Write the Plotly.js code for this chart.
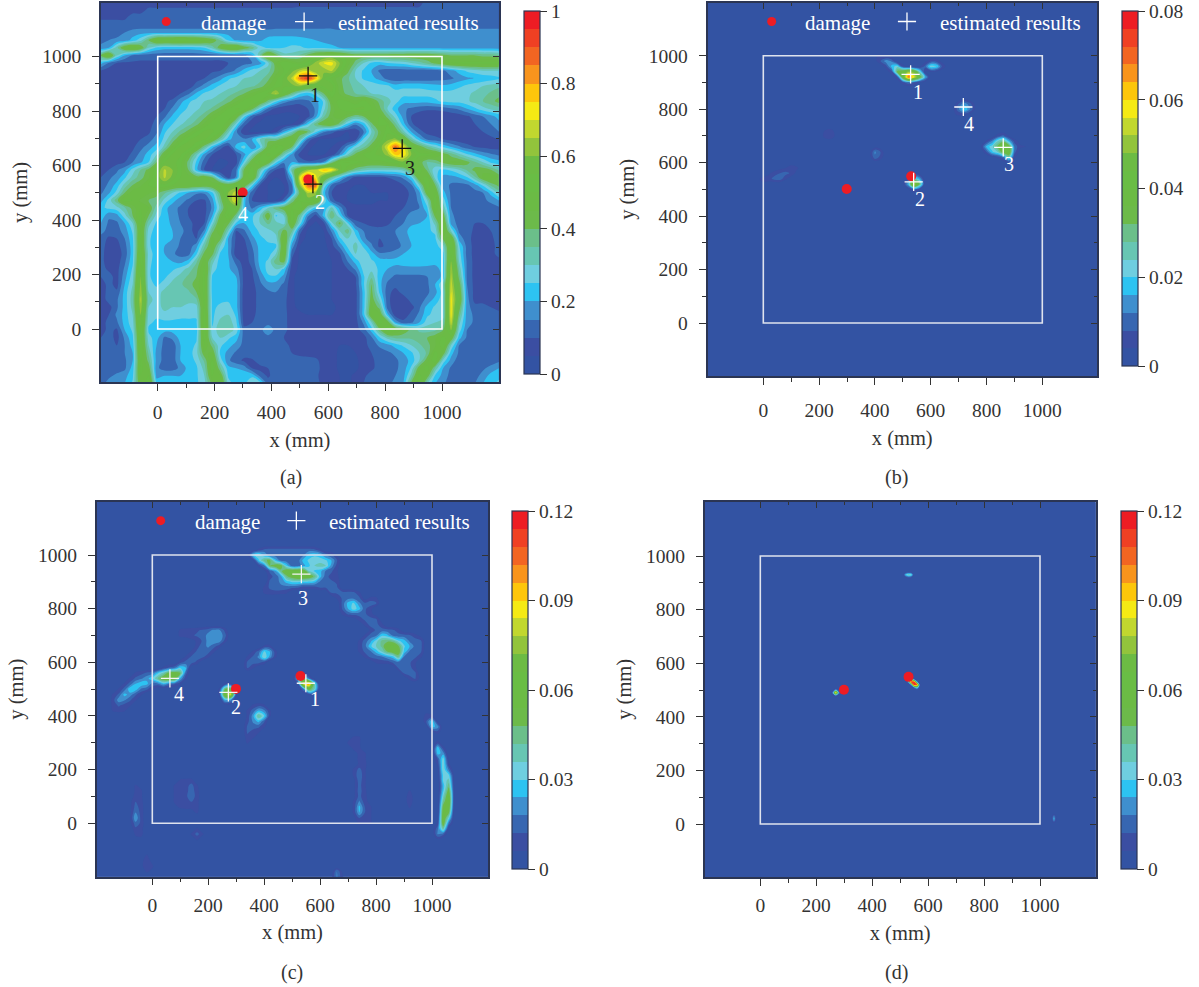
<!DOCTYPE html>
<html><head><meta charset="utf-8">
<script src="https://cdn.plot.ly/plotly-3.0.1.min.js"></script>
<style>html,body{margin:0;padding:0;background:#fff}#c{width:1199px;height:987px}</style></head>
<body><div id="c"></div>
<script>
// ---------- values are percent of each colour bar's full scale ----------
const levelColors=['#3353a3','#3b4ea2','#3766b1','#3f8fce','#2dc3f2','#6fcee0','#67c6b3','#6bbf8a','#6cba4a','#6bbb45','#69bd45','#6cbb44','#92c43c','#c1d72f','#f5ea14','#fdc60b','#f8941d','#f26522','#ef4023','#ed1c24'];
const scaleTicksA=['0','0.2','0.4','0.6','0.8','1'];
const scaleTicksB=['0','0.02','0.04','0.06','0.08'];
const scaleTicksC=['0','0.03','0.06','0.09','0.12'];
const scaleValsA=[0,20,40,60,80,100];
const scaleValsB=[0,25,50,75,100];
const axisTicks=[0,200,400,600,800,1000];
const axisMinor=[100,300,500,700,900];

// panel (a): rows from y=1200 down to y=-200, columns from x=-200 to x=1200, every 28 mm
const a_z=[
[7,7,7,7,7,7,7,7,7,7,7,7,7,7,7,7,7,7,7,7,7,7,7,7,7,8,8,8,8,8,8,8,8,8,8,8,8,8,8,8,8,12,12,12,12,12,12,12,12,12,12],
[8,8,8,8,8,8,11,11,11,11,11,11,11,11,11,11,11,11,11,11,11,11,11,11,11,11,11,11,11,11,11,11,11,11,11,11,11,11,11,11,11,11,11,11,11,11,11,11,11,11,11],
[9,9,9,9,12,12,12,12,12,12,12,12,12,12,12,12,12,12,12,12,12,12,12,12,12,12,12,12,12,12,12,12,12,12,12,12,12,12,12,12,12,12,12,12,12,12,12,12,12,12,12],
[12,12,12,12,12,12,12,12,12,12,12,12,12,12,12,12,12,12,12,12,12,12,13,13,13,13,13,13,13,13,13,13,14,14,14,14,14,14,14,14,14,14,14,14,14,14,14,14,14,14,14],
[13,13,13,15,17,18,18,18,18,18,18,18,18,18,18,18,18,18,18,18,17,17,17,17,17,17,17,17,17,17,16,16,16,16,16,16,16,16,16,16,16,16,16,16,16,16,16,16,16,16,16],
[14,15,16,17,22,28,40,52,53,54,55,54,53,50,45,35,24,19,18,18,19,22,23,23,23,22,21,20,18,17,17,17,17,17,17,17,17,17,17,17,17,17,17,17,17,17,17,17,17,17,17],
[16,20,33,48,52,46,30,24,22,22,22,22,23,25,32,44,52,53,44,38,27,24,24,25,26,26,24,24,24,22,20,18,18,18,18,18,18,18,18,18,18,18,18,18,18,18,18,18,18,18,18],
[40,52,30,20,14,12,12,12,12,12,12,12,12,12,12,12,12,13,14,18,35,54,42,32,32,36,42,50,52,54,52,48,44,44,44,44,44,45,45,46,46,46,44,42,40,40,40,40,38,38,36],
[22,14,10,9,9,9,9,9,9,9,9,9,9,9,9,9,10,12,13,15,18,28,45,55,50,46,52,62,70,72,60,48,38,30,24,22,25,26,27,30,33,37,42,46,50,51,52,52,52,52,52],
[10,7,7,7,7,7,7,7,7,7,7,7,7,8,9,10,12,16,22,27,30,33,42,50,58,66,68,60,62,66,54,42,30,24,20,14,12,12,12,12,12,12,12,14,18,22,26,28,30,30,30],
[7,7,7,7,7,7,7,7,7,7,7,7,8,10,14,18,24,27,30,31,33,38,48,56,66,85,95,78,56,48,42,36,30,24,22,18,13,11,11,11,11,11,12,13,14,17,19,20,21,22,24],
[7,7,7,7,7,7,7,7,7,7,7,7,12,17,22,26,28,30,32,34,37,44,52,56,58,62,52,50,56,58,42,37,33,30,28,27,26,22,24,24,24,23,22,21,22,24,26,28,30,32,34],
[7,7,7,7,7,7,7,7,7,7,10,14,21,26,28,30,33,36,40,46,52,56,66,50,38,26,22,28,40,54,44,38,35,32,30,29,28,28,27,27,27,27,27,27,27,28,29,31,33,36,38],
[7,7,7,7,7,7,7,7,9,11,18,24,27,30,31,34,38,44,52,56,50,38,26,18,14,12,14,18,26,46,52,50,46,52,46,38,32,27,22,22,22,22,24,26,27,27,29,32,35,38,42],
[8,8,8,8,8,8,8,8,10,16,22,26,29,32,36,42,50,56,54,42,26,14,8,6,6,7,10,16,28,42,50,54,56,56,50,42,30,22,16,14,12,11,11,12,14,16,20,24,28,31,33],
[8,8,8,8,8,8,8,10,14,21,26,29,33,38,46,52,54,46,26,12,7,4,4,4,4,5,8,18,34,44,48,42,36,40,50,50,38,28,18,10,7,6,6,6,6,7,9,12,15,18,22],
[8,8,8,8,8,8,8,12,20,25,29,33,38,46,53,55,46,28,12,6,4,3,3,3,5,10,24,38,46,48,38,24,16,22,38,52,50,36,22,11,7,6,5,5,6,7,8,10,13,15,18],
[8,8,8,8,8,8,9,14,24,30,36,42,50,56,56,50,32,16,6,4,4,4,8,20,30,46,40,26,16,12,7,5,6,14,30,42,54,46,32,20,12,8,7,6,6,6,7,8,10,13,15],
[8,8,8,8,8,10,12,18,27,36,46,54,58,56,48,34,22,16,16,20,30,38,36,44,52,34,14,6,4,4,4,4,8,26,34,46,58,62,50,34,22,14,12,10,8,7,7,7,7,8,10],
[8,8,8,8,9,13,18,22,32,46,56,58,50,36,22,12,7,22,27,16,24,44,56,50,40,16,6,4,4,5,8,18,28,34,44,56,70,88,72,52,44,36,30,24,20,16,12,10,9,8,8],
[8,8,8,8,11,17,22,30,46,56,56,46,32,18,10,6,6,10,18,30,46,58,50,32,18,8,5,4,5,7,16,30,42,50,54,56,62,76,74,60,52,52,50,44,38,32,26,22,18,16,14],
[8,8,8,10,15,19,25,40,55,58,52,38,24,12,6,4,5,8,26,46,58,46,26,16,20,14,11,12,16,36,54,56,52,50,48,48,50,52,58,52,44,34,36,42,46,46,42,36,30,24,22],
[8,10,14,18,27,35,42,54,66,60,52,40,22,10,5,5,6,14,42,54,34,18,10,8,34,52,62,66,78,74,58,44,36,32,30,30,30,30,32,44,54,38,26,24,26,30,36,42,44,40,34],
[10,14,17,24,32,38,44,56,66,58,50,48,44,48,40,20,8,16,46,54,24,8,5,6,22,70,92,72,52,36,24,14,8,8,8,8,10,12,16,24,48,52,28,18,18,20,24,34,46,50,44],
[12,16,22,32,40,44,50,54,54,50,50,50,48,46,48,52,46,54,48,26,10,5,5,5,14,62,88,90,30,14,8,6,5,5,6,6,6,7,10,14,30,54,40,18,14,13,14,18,26,36,42],
[14,19,27,40,48,50,46,42,36,30,24,20,16,16,24,42,60,68,26,12,6,5,4,5,14,42,66,62,22,10,6,5,4,4,5,5,5,6,8,11,18,46,50,22,14,12,12,13,15,22,32],
[18,27,38,52,50,44,40,38,28,22,17,14,10,9,18,36,58,72,22,10,6,5,5,12,36,50,56,54,30,12,7,5,4,4,4,5,5,6,8,12,16,30,54,28,14,13,13,13,14,16,20],
[24,26,28,34,42,50,46,32,22,17,14,10,8,8,16,32,52,54,22,14,22,30,38,44,50,56,34,22,20,32,18,8,6,6,6,7,7,8,10,13,15,24,52,34,15,13,12,12,12,13,14],
[24,16,18,28,40,52,40,28,22,18,14,10,8,8,20,42,56,36,24,24,30,46,24,30,54,36,16,8,22,40,26,10,7,6,6,7,8,10,13,17,18,20,42,44,16,13,12,12,12,12,12],
[20,14,14,20,30,52,32,24,22,19,15,12,8,10,28,48,42,24,20,24,30,36,32,28,50,28,8,4,8,28,42,26,12,10,8,8,9,12,15,19,20,21,32,52,18,13,12,10,10,11,12],
[17,13,13,17,26,50,28,22,22,20,17,12,8,16,38,50,30,10,14,22,26,28,32,42,36,12,4,3,5,16,30,38,22,15,13,12,13,15,18,22,23,24,26,54,30,14,12,9,8,10,12],
[13,9,10,15,24,52,26,22,22,20,15,11,10,26,46,42,20,9,10,18,24,26,28,50,26,8,3,3,4,10,24,30,28,16,13,10,12,14,17,21,23,24,24,42,50,18,12,8,7,9,12],
[12,8,8,13,23,52,26,22,20,18,14,12,18,34,48,30,20,8,8,15,22,24,24,50,18,5,3,3,3,8,16,26,32,24,16,9,11,13,16,20,23,24,23,28,56,26,13,8,7,8,12],
[12,7,7,12,23,54,28,22,20,16,13,13,24,42,42,24,20,7,7,13,22,22,30,50,12,4,3,3,3,6,9,20,30,30,22,16,16,17,20,23,24,24,22,24,56,28,13,8,7,8,12],
[12,7,7,14,24,56,27,22,21,20,18,22,34,48,32,22,21,13,7,12,22,26,38,42,9,4,3,3,3,5,7,15,22,29,26,23,22,22,23,24,24,23,22,22,60,30,14,8,7,7,8],
[12,9,8,16,26,58,26,22,22,24,27,32,38,52,28,22,21,17,8,10,20,27,30,24,7,4,3,3,3,5,6,10,16,27,28,24,20,18,18,18,18,18,18,22,64,34,14,8,7,7,7],
[10,12,8,18,28,60,26,22,24,28,32,36,40,52,24,22,22,20,8,9,16,24,24,18,6,3,3,3,3,5,6,8,10,24,34,22,17,14,14,14,14,15,16,22,66,38,14,8,7,7,7],
[7,12,8,20,30,62,27,24,27,32,34,38,42,52,23,23,24,22,8,8,14,18,18,14,6,3,3,3,3,5,6,8,9,24,40,22,14,12,13,13,13,14,20,30,68,44,15,8,7,7,7],
[7,12,11,22,32,64,30,27,32,34,34,34,40,52,23,24,24,22,7,8,12,14,15,13,6,3,3,3,3,5,6,7,8,22,42,24,12,8,12,14,14,14,18,28,70,48,16,8,8,8,8],
[7,12,14,22,33,66,32,28,32,33,32,32,34,52,24,24,24,22,7,8,12,14,14,12,6,3,3,3,3,5,6,7,8,22,44,30,12,6,7,12,13,16,22,28,72,50,17,8,8,8,8],
[7,8,14,22,32,64,30,27,32,30,30,28,28,52,24,26,27,22,7,8,12,14,14,12,6,4,3,3,3,4,6,7,8,22,47,38,13,6,6,8,14,22,26,28,72,44,17,12,12,10,8],
[7,10,16,22,30,60,28,26,28,27,26,26,26,54,24,28,30,24,7,8,13,13,13,12,7,6,5,5,5,5,6,7,8,22,48,48,22,7,6,12,16,24,27,28,72,38,17,14,14,12,12],
[7,12,14,22,28,58,26,24,24,24,24,24,24,55,24,32,34,26,8,10,13,14,14,12,7,7,6,6,6,6,7,7,8,16,30,52,46,20,12,14,20,28,30,32,68,32,17,14,14,13,13],
[7,12,9,20,26,56,24,22,22,22,22,22,22,55,26,34,34,28,12,13,14,17,14,12,7,7,7,7,7,7,7,8,8,12,22,38,54,50,44,38,34,33,34,40,60,28,15,14,14,14,14],
[10,13,8,16,24,54,27,22,14,16,22,22,24,52,30,30,26,22,13,14,14,14,14,10,8,8,8,8,8,7,7,7,7,8,14,24,32,36,36,36,38,40,44,52,46,22,14,12,12,13,14],
[13,13,10,15,22,54,30,20,13,12,20,22,26,50,38,26,22,18,13,14,14,14,14,13,8,8,8,8,7,7,5,5,6,8,12,16,18,22,26,30,34,38,44,54,30,15,13,12,12,13,14],
[13,12,13,15,20,54,34,18,13,12,20,22,28,44,46,24,18,14,12,14,14,14,14,14,10,8,8,8,8,7,4,4,5,7,10,12,14,16,20,24,30,36,52,44,22,14,12,12,12,13,14],
[13,13,13,14,20,52,38,18,13,12,20,22,26,36,52,28,16,12,9,9,13,14,14,14,14,13,12,11,8,7,4,4,4,7,9,12,12,14,17,22,30,44,54,28,18,12,12,12,12,12,14],
[13,13,13,14,22,52,44,16,13,13,16,22,24,32,54,36,22,20,18,10,8,10,14,14,14,14,13,12,8,7,4,4,4,7,9,12,12,14,17,26,44,54,34,20,14,12,12,12,14,17,20],
[13,14,16,18,24,50,50,18,20,20,20,22,24,30,50,46,24,22,24,24,14,9,13,14,14,14,13,11,8,7,5,4,6,9,12,12,13,15,18,32,52,44,24,18,13,12,12,13,17,22,24],
[13,17,17,20,26,46,54,24,22,22,22,24,24,28,42,52,28,22,24,30,28,13,14,14,14,14,14,12,8,7,5,4,6,10,12,12,14,16,20,42,52,30,20,16,12,12,13,15,20,24,26]
];

// panels (b),(c): patches [left x, top y, rows], 20 mm spacing; the rest of the map is 0
const b_tail=[380,1000,[[0,4,6,3,1],[0,3,10,18,14]]];
const b_blob1=[440,960,[[8,22,28,8,2,0,0,0,0],[2,8,42,52,62,58,30,4,0],[0,2,8,48,88,72,48,22,2],[0,0,1,8,14,10,4,1,0]]];
const b_blob2=[560,980,[[0,3,8,8,3,0],[3,12,28,26,10,2],[0,2,5,4,1,0]]];
const b_blob4=[680,840,[[0,0,2,1,0],[0,10,18,12,2],[3,14,26,16,4],[4,6,6,3,0]]];
const b_faint2=[760,840,[[0,3,0],[3,5,3],[0,2,0]]];
const b_blob3=[780,700,[[0,0,0,8,12,4,0,0,0,0],[0,6,16,30,38,22,8,3,2,0],[4,22,28,42,60,48,14,6,5,2],[0,10,24,30,46,52,12,3,2,0],[0,0,3,6,12,32,6,0,0,0],[0,0,0,0,2,5,1,0,0,0]]];
const b_pt2=[500,560,[[0,0,3,2,0],[0,8,30,20,1],[2,22,68,40,2],[0,4,12,6,0]]];
const b_spot=[380,660,[[0,2,1,0],[2,16,10,0],[1,14,8,0],[0,1,1,0]]];
const b_faint1=[200,720,[[0,5,7,3],[0,7,8,4],[0,2,3,0]]];
const b_streak=[-60,600,[[0,0,0,0,0,0,0,2,3,2,0],[0,0,0,0,0,0,3,5,7,6,2],[0,0,0,0,4,8,10,12,9,3,0],[0,2,4,7,8,12,13,6,1,0,0],[2,3,5,4,2,1,0,0,0,0,0],[0,1,1,0,0,0,0,0,0,0,0]]];

const c_top=[340,1020,[
[0,0,6,11,12,12,12,12,12,12,12,12,11,6,0,0,0],
[2,24,28,20,12,12,12,12,12,12,14,22,24,22,14,11,3],
[0,4,24,38,42,22,12,12,12,12,22,26,28,28,26,20,11],
[0,0,6,14,40,46,44,24,12,12,18,24,30,32,30,18,8],
[0,0,0,3,11,18,38,48,50,52,50,30,24,22,14,11,6],
[0,0,0,0,8,12,18,38,46,52,52,48,38,22,12,8,7],
[0,0,0,0,11,13,16,22,26,26,24,24,22,14,12,11,9],
[0,0,0,6,11,13,14,13,12,11,8,8,8,11,11,11,11],
[0,0,0,6,8,8,7,6,0,0,0,0,0,0,0,11,11]]];
const c_mid=[660,860,[
[11,12,12,11,6,0,0,0,0],
[6,11,13,13,11,2,6,6,0],
[0,12,22,26,16,11,13,11,0],
[0,11,20,28,22,11,7,0,0],
[0,6,11,12,12,11,7,2,0],
[0,0,0,2,7,11,12,11,2],
[0,0,0,0,0,6,12,12,7]]];
const c_big=[740,720,[
[0,0,6,11,12,12,11,7,0,0,0,0],
[0,6,12,14,24,22,14,12,12,11,7,3],
[6,12,18,27,36,38,36,26,22,14,13,11],
[7,13,24,30,36,48,52,42,26,20,13,12],
[6,11,14,22,30,40,46,46,24,14,13,11],
[0,6,11,12,14,18,22,36,14,12,11,6],
[0,0,0,6,7,7,11,13,12,11,6,0],
[0,0,0,0,0,0,0,11,12,12,6,0],
[0,0,0,0,0,0,0,0,11,13,11,0],
[0,0,0,0,0,0,0,0,0,7,11,2]]];
const c_upper=[100,720,[
[6,7,8,9,11,13,16,16,8],
[7,8,9,11,12,17,19,19,12],
[0,0,3,6,11,17,19,18,8],
[0,0,0,8,13,16,12,7,0],
[0,0,6,11,14,12,6,0,0],
[0,6,11,13,11,6,0,0,0],
[8,12,13,8,0,0,0,0,0]]];
const c_lower=[-140,580,[
[0,0,0,0,0,0,0,0,0,6,11,14,24,20],
[0,0,0,0,6,8,11,13,24,32,44,46,40,12],
[0,0,0,6,11,14,18,24,36,48,50,48,20,6],
[0,0,6,12,20,24,22,13,14,22,14,11,6,0],
[0,6,12,24,23,14,11,6,0,0,0,0,0,0],
[6,11,22,18,11,6,0,0,0,0,0,0,0,0],
[8,18,16,11,6,0,0,0,0,0,0,0,0,0],
[7,11,8,6,0,0,0,0,0,0,0,0,0,0],
[6,7,6,0,0,0,0,0,0,0,0,0,0,0]]];
const c_spot1=[340,660,[[0,0,0,6,7,0],[0,6,12,26,20,7],[6,11,16,30,18,6],[11,12,12,8,0,0],[11,6,0,0,0,0]]];
const c_spot2=[340,440,[[0,6,8,6,0],[6,12,20,16,6],[6,18,36,26,6],[8,16,22,11,0],[11,12,11,6,0],[11,8,6,0,0],[8,6,0,0,0],[6,0,0,0,0]]];
const c_pt2=[240,520,[[0,6,6,0],[6,40,45,6],[6,55,72,7],[0,22,18,0],[0,2,2,0]]];
const c_pt1=[500,560,[[0,8,10,2,0,0],[0,22,38,14,2,0],[0,6,70,85,30,0],[0,0,14,45,30,0],[0,0,0,6,3,0]]];
const c_arc1=[980,420,[[2,0,0],[8,6,0],[10,24,4],[2,22,18],[0,3,8]]];
const c_arc2=[1000,300,[[0,8,0,0,0],[0,24,8,0,0],[0,22,18,0,0],[0,10,28,3,0],[0,6,30,6,0],[0,3,30,14,0],[0,2,26,26,2],[0,0,26,32,3],[0,0,22,38,3],[0,0,24,45,4],[0,0,30,50,4],[0,0,36,52,3],[0,0,44,48,2],[0,0,48,42,0],[0,3,50,28,0],[0,6,48,14,0],[0,14,34,3,0],[0,16,12,0,0],[0,4,0,0,0]]];
const c_vert=[700,320,[[2,6,6,0,0],[6,7,6,0,0],[2,6,6,2,0],[0,3,6,6,0],[0,3,6,6,0],[0,2,6,7,0],[0,6,12,6,0],[0,6,14,6,0],[0,3,13,6,0],[0,3,12,6,0],[0,3,13,6,2],[0,3,12,6,3],[0,6,16,7,3],[0,6,22,10,6],[0,6,20,10,6],[0,3,10,7,6],[0,0,6,6,6]]];
const c_left=[-80,140,[[0,6,3,0],[0,6,6,0],[0,8,6,0],[3,10,7,0],[3,12,8,0],[3,15,8,0],[3,20,8,0],[3,13,9,0],[0,9,7,0],[0,6,7,0],[0,3,3,0]]];
const c_faint=[60,160,[[0,0,6,7,7,0,0],[0,6,6,8,12,6,0],[0,6,6,8,13,7,0],[0,6,6,9,13,8,0],[0,6,6,8,10,7,0],[0,3,6,6,6,7,0],[0,0,0,3,3,6,0]]];
const c_s3=[140,-20,[[0,6,0],[6,12,6],[0,6,0]]];
const c_s4=[-40,-120,[[0,6,0],[3,8,3],[3,9,6],[0,6,3]]];
const c_s5=[640,-180,[[0,16,3],[3,16,6]]];
const c_s6=[900,120,[[0,6,0],[3,7,3],[3,7,3],[0,6,0]]];

// panel (d): patches, 10 mm spacing
const d_top=[510,940,[[0,4,6,4,0],[2,24,32,28,3],[0,6,10,6,0]]];
const d_pt1=[530,540,[[8,40,10,0,0],[20,95,95,20,0],[0,20,96,90,8],[0,0,15,35,4]]];
const d_pt2=[260,500,[[4,20,6],[18,80,20],[4,16,4]]];
const d_edge=[1040,30,[[0,16,0],[0,22,0],[0,14,0]]];

// marks: [x], [y]
const damageX=[530,299], damageY=[549,501];
const est_a_x=[529,546,860,277], est_a_y=[929,532,663,487];
const est_b_x=[528,539,860,717], est_b_y=[930,528,657,808];
const est_c_x=[549,272,533,63],  est_c_y=[522,488,929,540];
const lab_a_x=[553,571,887,301], lab_a_y=[859,467,592,422];
const lab_b_x=[553,562,882,736], lab_b_y=[865,463,593,744];
const lab_c_x=[583,299,537,97],  lab_c_y=[463,432,838,482];
const lab_a_col=['#1c1c1c','#ffffff','#1c1c1c','#ffffff'];
const labelText=['1','2','3','4'];

// ---------- building ----------
function gridFrom(step,patches){
  const n=Math.round(1400/step)+1, xs=[], z=[];
  for(let i=0;i<n;i++) xs.push(-200+i*step);
  for(let j=0;j<n;j++) z.push(new Array(n).fill(0));
  patches.forEach(p=>p[2].forEach((row,r)=>row.forEach((v,c)=>{
    const xi=Math.round((p[0]+200)/step)+c, yi=Math.round((p[1]-r*(step)+200)/step);
    if(xi>=0&&xi<n&&yi>=0&&yi<n) z[yi][xi]=Math.max(z[yi][xi],v);
  })));
  return {x:xs,y:xs,z};
}
const aN=a_z.length, aAxis=[]; for(let i=0;i<aN;i++) aAxis.push(-200+28*i);
const maps=[
 {x:aAxis,y:aAxis,z:a_z.slice().reverse()},
 gridFrom(20,[b_tail,b_blob1,b_blob2,b_blob4,b_faint2,b_blob3,b_pt2,b_spot,b_faint1,b_streak]),
 gridFrom(20,[c_top,c_mid,c_big,c_upper,c_lower,c_spot1,c_spot2,c_pt2,c_pt1,c_arc1,c_arc2,c_vert,c_left,c_faint,c_s3,c_s4,c_s5,c_s6]),
 gridFrom(10,[d_top,d_pt1,d_pt2,d_edge])
];
const W=1199,H=987;
// plot boxes in pixels: left,right,top,bottom, x0,x1000,y0,y1000
const boxes=[
 [101,499,3,382,157.7,442,329,56.5],
 [707.5,1097,2.7,376,763.3,1042.3,323,55.7],
 [96.7,488.3,501.7,876.7,152.3,432,823.3,555],
 [704.7,1095.7,501.7,877,760.3,1040,824,556]
];
const standoffs=[5,9,3,3];
const bars=[[524,11,363],[1122,11,355],[512,511,358],[1121,511,358]];
const barTicks=[[scaleValsA,scaleTicksA],[scaleValsB,scaleTicksB],[scaleValsB,scaleTicksC],[scaleValsB,scaleTicksC]];
const ink='#333333', frame='#2b3553', serif='"Liberation Serif",serif';
const contourScale=levelColors.map((c,i)=>[i/19,c]);
const stepped=[]; levelColors.forEach((c,i)=>{stepped.push([i/20,c]);stepped.push([(i+1)/20,c]);});

const data=[],annotations=[],shapes=[],layout={
 width:W,height:H,margin:{l:0,r:0,t:0,b:0},paper_bgcolor:'#fff',plot_bgcolor:'#3353a3',showlegend:false,
 font:{family:serif,size:18,color:ink}
};
boxes.forEach((b,i)=>{
  const n=i+1, sfx=i?String(n):'';
  const xr=[(b[0]-b[4])/(b[5]-b[4])*1000,(b[1]-b[4])/(b[5]-b[4])*1000];
  const yr=[(b[3]-b[6])/(b[7]-b[6])*1000,(b[2]-b[6])/(b[7]-b[6])*1000];
  const dx=[b[0]/W,b[1]/W], dy=[1-b[3]/H,1-b[2]/H];
  const base={tickmode:'array',tickvals:axisTicks,showgrid:false,zeroline:false,fixedrange:true};
  layout['xaxis'+sfx]=Object.assign({},base,{domain:dx,range:xr,anchor:'y'+sfx,ticks:'outside',ticklen:7,tickwidth:1.2,tickcolor:ink,
    minor:{tickmode:'array',tickvals:axisMinor,ticks:'outside',ticklen:4,tickwidth:1,tickcolor:ink,showgrid:false},
    showline:true,mirror:true,linecolor:frame,linewidth:1.5,ticklabelstandoff:standoffs[i],tickfont:{family:serif,size:19.5,color:ink},
    title:{text:'x (mm)',font:{family:serif,size:20.5,color:ink},standoff:10}});
  layout['yaxis'+sfx]=Object.assign({},base,{domain:dy,range:yr,anchor:'x'+sfx,ticks:'outside',ticklen:7,tickwidth:1.2,tickcolor:ink,
    minor:{tickmode:'array',tickvals:axisMinor,ticks:'outside',ticklen:4,tickwidth:1,tickcolor:ink,showgrid:false},
    showline:true,mirror:true,linecolor:frame,linewidth:1.5,ticklabelstandoff:7,tickfont:{family:serif,size:19.5,color:ink},
    title:{text:'y (mm)',font:{family:serif,size:20.5,color:ink},standoff:9}});
  const o=i+5;
  layout['xaxis'+o]=Object.assign({},base,{domain:dx,range:xr,overlaying:'x'+sfx,anchor:'y'+o,side:'top',ticks:'inside',ticklen:6,tickwidth:1.2,tickcolor:'#333',showticklabels:false,
    minor:{tickmode:'array',tickvals:axisMinor,ticks:'inside',ticklen:3,tickwidth:1,tickcolor:'#333',showgrid:false}});
  layout['yaxis'+o]=Object.assign({},base,{domain:dy,range:yr,overlaying:'y'+sfx,anchor:'x'+o,side:'right',ticks:'inside',ticklen:6,tickwidth:1.2,tickcolor:'#333',showticklabels:false,
    minor:{tickmode:'array',tickvals:axisMinor,ticks:'inside',ticklen:3,tickwidth:1,tickcolor:'#333',showgrid:false}});
  const xa='x'+sfx, ya='y'+sfx;
  data.push({type:'heatmap',z:[[0,100]],zmin:0,zmax:100,colorscale:stepped,xaxis:xa,yaxis:ya,hoverinfo:'skip',
    colorbar:{x:bars[i][0]/W,xanchor:'left',y:1-bars[i][1]/H,yanchor:'top',lenmode:'pixels',len:bars[i][2],thicknessmode:'pixels',thickness:16,xpad:0,ypad:0,
      outlinecolor:frame,outlinewidth:1.2,tickmode:'array',tickvals:barTicks[i][0],ticktext:barTicks[i][1],ticks:'outside',ticklen:7,tickcolor:ink,tickwidth:1.2,tickfont:{family:serif,size:19.5,color:ink}}});
  data.push({type:'contour',x:maps[i].x,y:maps[i].y,z:maps[i].z,xaxis:xa,yaxis:ya,autocontour:false,showscale:false,hoverinfo:'skip',
    contours:{coloring:'fill',showlines:false,start:5,end:95,size:5},line:{width:0,smoothing:1},colorscale:contourScale});
  data.push({type:'scatter',x:[],y:[],xaxis:'x'+o,yaxis:'y'+o,hoverinfo:'skip'});
  shapes.push({type:'rect',xref:xa,yref:ya,x0:0,x1:1000,y0:0,y1:1000,line:{color:i?'#dfe3ee':'#ffffff',width:1.6}});
  data.push({type:'scatter',mode:'markers',x:damageX,y:damageY,xaxis:xa,yaxis:ya,marker:{color:'#ed1c24',size:10},hoverinfo:'skip'});
});
const ests=[[est_a_x,est_a_y,'#111111'],[est_b_x,est_b_y,'#ffffff'],[est_c_x,est_c_y,'#f4f4f4']];
const labs=[[lab_a_x,lab_a_y],[lab_b_x,lab_b_y],[lab_c_x,lab_c_y]];
ests.forEach((e,i)=>{
  const sfx=i?String(i+1):'';
  data.push({type:'scatter',mode:'markers',x:e[0],y:e[1],xaxis:'x'+sfx,yaxis:'y'+sfx,hoverinfo:'skip',
    marker:{symbol:'cross-thin',size:13,line:{color:e[2],width:1.3}}});
  labelText.forEach((t,k)=>annotations.push({xref:'x'+sfx,yref:'y'+sfx,x:labs[i][0][k],y:labs[i][1][k],text:t,showarrow:false,
    font:{family:serif,size:20,color:i==0?lab_a_col[k]:'#ffffff'}}));
  // legend
  data.push({type:'scatter',mode:'markers',x:[30],y:[1128],xaxis:'x'+sfx,yaxis:'y'+sfx,marker:{color:'#ed1c24',size:9},hoverinfo:'skip'});
  data.push({type:'scatter',mode:'markers',x:[515],y:[1128],xaxis:'x'+sfx,yaxis:'y'+sfx,marker:{symbol:'cross-thin',size:13,line:{color:'#ffffff',width:1.3}},hoverinfo:'skip'});
  annotations.push({xref:'x'+sfx,yref:'y'+sfx,x:144,y:1122,xanchor:'left',text:'damage',showarrow:false,font:{family:serif,size:21,color:'#ffffff'}});
  annotations.push({xref:'x'+sfx,yref:'y'+sfx,x:626,y:1122,xanchor:'left',text:'estimated results',showarrow:false,font:{family:serif,size:21,color:'#ffffff'}});
});
[['(a)',291,478],['(b)',897,477],['(c)',292,972],['(d)',897,972]].forEach(c=>annotations.push({xref:'paper',yref:'paper',x:c[1]/W,y:1-c[2]/H,xanchor:'center',yanchor:'middle',text:c[0],showarrow:false,font:{family:serif,size:20,color:ink}}));
layout.annotations=annotations; layout.shapes=shapes;
Plotly.newPlot('c',data,layout,{displayModeBar:false,responsive:false});
</script></body></html>
